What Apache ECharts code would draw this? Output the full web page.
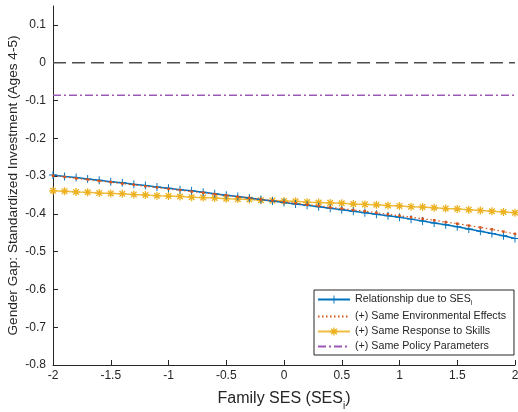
<!DOCTYPE html>
<html>
<head>
<meta charset="utf-8">
<script src="https://cdn.jsdelivr.net/npm/echarts@6/dist/echarts.min.js"></script>
<style>
  html, body { margin: 0; padding: 0; background: #fff; }
  #chart { width: 518px; height: 412px; }
</style>
</head>
<body>
<div id="chart"></div>
<script>
// Family SES grid (SES_i), step 0.1 from -2 to 2
const ses = [-2.0,-1.9,-1.8,-1.7,-1.6,-1.5,-1.4,-1.3,-1.2,-1.1,-1.0,-0.9,-0.8,-0.7,-0.6,-0.5,-0.4,-0.3,-0.2,-0.1,
  0.0,0.1,0.2,0.3,0.4,0.5,0.6,0.7,0.8,0.9,1.0,1.1,1.2,1.3,1.4,1.5,1.6,1.7,1.8,1.9,2.0];

// Relationship due to SES_i
const gapBaseline = [-0.297,-0.301,-0.304,-0.308,-0.311,-0.315,-0.318,-0.322,-0.325,-0.329,-0.332,-0.336,-0.339,-0.343,
  -0.347,-0.351,-0.354,-0.358,-0.362,-0.366,-0.370,-0.374,-0.377,-0.381,-0.385,-0.389,-0.393,-0.397,-0.401,-0.405,
  -0.409,-0.414,-0.419,-0.424,-0.429,-0.434,-0.440,-0.446,-0.452,-0.458,-0.465];

// (+) Same Environmental Effects
const gapEnv = [-0.299,-0.302,-0.306,-0.309,-0.313,-0.316,-0.320,-0.323,-0.327,-0.330,-0.334,-0.337,-0.341,-0.344,
  -0.348,-0.351,-0.355,-0.358,-0.362,-0.365,-0.369,-0.372,-0.376,-0.379,-0.383,-0.386,-0.390,-0.393,-0.397,-0.401,
  -0.405,-0.409,-0.413,-0.417,-0.422,-0.426,-0.431,-0.436,-0.441,-0.447,-0.453];

// (+) Same Response to Skills
const gapSkills = [-0.339,-0.340,-0.342,-0.343,-0.345,-0.346,-0.347,-0.349,-0.350,-0.352,-0.353,-0.354,-0.356,-0.357,
  -0.358,-0.360,-0.361,-0.362,-0.364,-0.365,-0.366,-0.367,-0.369,-0.370,-0.371,-0.372,-0.374,-0.375,-0.376,-0.378,
  -0.379,-0.381,-0.382,-0.384,-0.386,-0.387,-0.389,-0.391,-0.393,-0.395,-0.397];

// (+) Same Policy Parameters (flat across SES) and the zero reference
const gapPolicy = -0.086;
const zeroRef = 0;

// Axis ticks
const xTicks = [-2, -1.5, -1, -0.5, 0, 0.5, 1, 1.5, 2];
const yTicks = [-0.8, -0.7, -0.6, -0.5, -0.4, -0.3, -0.2, -0.1, 0, 0.1];

const names = [
  'Relationship due to SES',
  '(+) Same Environmental Effects',
  '(+) Same Response to Skills',
  '(+) Same Policy Parameters'
];

const pair = (ys) => ses.map((x, i) => [x, ys[i]]);
const flat = (v) => [[ses[0], v], [ses[ses.length - 1], v]];

// marker shapes: plus and asterisk built from thin bars
const plusPath = 'path://M-0.6,-5L0.6,-5L0.6,5L-0.6,5Z M-5,-0.6L5,-0.6L5,0.6L-5,0.6Z';
const starPath = 'path://M-0.8,-5L0.8,-5L0.8,5L-0.8,5Z M-5,-0.8L5,-0.8L5,0.8L-5,0.8Z ' +
  'M-4.1,-2.9L-2.9,-4.1L4.1,2.9L2.9,4.1Z M2.9,-4.1L4.1,-2.9L-2.9,4.1L-4.1,2.9Z';

const font = 'Liberation Sans, Arial, sans-serif';
const ink = '#262626';
const purple = '#9b59b6';

const chart = echarts.init(document.getElementById('chart'), null, { renderer: 'canvas' });

chart.setOption({
  animation: false,
  backgroundColor: '#fff',
  textStyle: { fontFamily: font },
  grid: { left: 53, right: 3, top: 6, bottom: 47, containLabel: false, outerBoundsMode: 'none' },
  xAxis: {
    type: 'value',
    min: -2, max: 2, interval: 0.5,
    name: 'Family SES (SES{sub|i})',
    nameLocation: 'middle',
    nameGap: 22,
    nameMoveOverlap: false,
    nameTextStyle: {
      fontSize: 16, color: ink, fontFamily: font,
      rich: { sub: { fontSize: 10, color: ink, verticalAlign: 'bottom', padding: [14, 0, 0, 0] } }
    },
    axisLine: { show: true, onZero: false, lineStyle: { color: ink, width: 1 } },
    axisTick: { show: true, inside: true, length: 5, lineStyle: { color: ink } },
    axisLabel: { color: ink, fontSize: 12, margin: 5, fontFamily: font,
      customValues: xTicks, formatter: (v) => String(v) },
    splitLine: { show: false }
  },
  yAxis: {
    type: 'value',
    min: -0.8, max: 0.15,
    name: 'Gender Gap: Standardized Investment (Ages 4-5)',
    nameLocation: 'middle',
    nameGap: 33,
    nameMoveOverlap: false,
    nameTextStyle: { fontSize: 13.6, color: ink, fontFamily: font },
    axisLine: { show: true, onZero: false, lineStyle: { color: ink, width: 1 } },
    axisTick: { show: true, inside: true, length: 5, lineStyle: { color: ink }, customValues: yTicks },
    axisLabel: { color: ink, fontSize: 12, margin: 7, fontFamily: font, customValues: yTicks,
      formatter: (v) => String(Math.round(v * 10) / 10) },
    splitLine: { show: false }
  },
  legend: {
    data: [
      { name: names[0] },
      { name: names[1], itemStyle: { opacity: 0 } },
      { name: names[2] },
      { name: names[3], itemStyle: { opacity: 0 } }
    ],
    orient: 'vertical',
    left: 314, top: 290,
    padding: [4, 8, 3, 3],
    borderColor: ink, borderWidth: 1,
    backgroundColor: '#fff',
    itemWidth: 32, itemHeight: 10, itemGap: 4,
    textStyle: { fontSize: 10.7, color: ink, fontFamily: font,
      rich: { sub: { fontSize: 7, color: ink, verticalAlign: 'bottom', padding: [8, 0, 0, 0] } } },
    formatter: (n) => n === names[0] ? n + '{sub|i}' : n,
    selectedMode: false
  },
  series: [
    {
      name: 'zero', type: 'line', data: flat(zeroRef), symbol: 'none', silent: true,
      lineStyle: { color: '#4d4d4d', width: 1.6, type: [13, 6] }, z: 1
    },
    {
      name: names[3], type: 'line', data: flat(gapPolicy), symbol: 'none',
      color: purple,
      lineStyle: { color: purple, width: 1.4, type: [8, 3, 2, 3] }, z: 2
    },
    {
      name: names[2], type: 'line', data: pair(gapSkills),
      color: '#EDB120',
      symbol: starPath, symbolSize: 8,
      itemStyle: { color: '#EDB120' },
      lineStyle: { color: '#EDB120', width: 1.5, opacity: 0.85 }, z: 3
    },
    {
      name: names[0], type: 'line', data: pair(gapBaseline),
      color: '#0072BD',
      symbol: plusPath, symbolSize: 8,
      itemStyle: { color: '#0072BD' },
      lineStyle: { color: '#0072BD', width: 1.5 }, z: 4
    },
    {
      name: names[1], type: 'line', data: pair(gapEnv),
      color: '#D95319',
      symbol: 'rect', symbolSize: 2.5,
      itemStyle: { color: '#D95319' },
      lineStyle: { color: '#D95319', width: 1.2, type: [1.5, 2.5] }, z: 5
    }
  ]
});
</script>
</body>
</html>
